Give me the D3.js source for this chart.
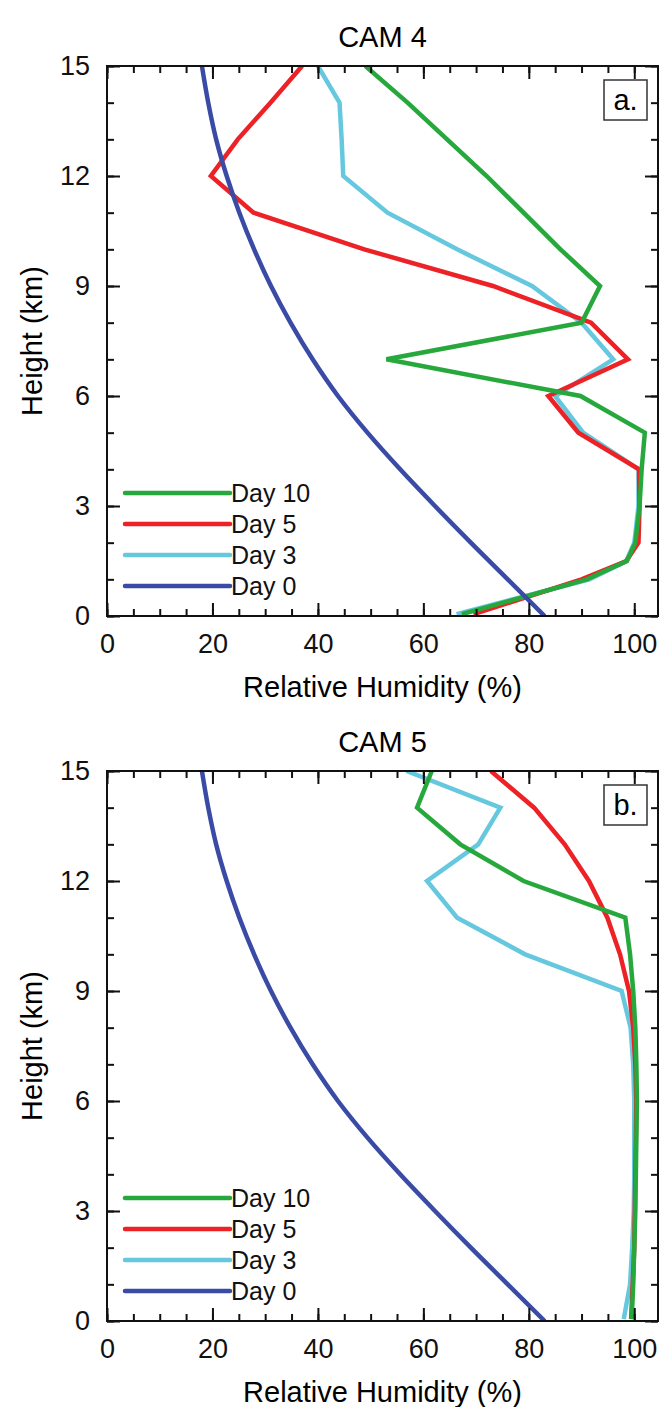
<!DOCTYPE html>
<html>
<head>
<meta charset="utf-8">
<script src="https://cdn.jsdelivr.net/npm/d3@7"></script>
<style>
  html, body { margin: 0; padding: 0; background: #fff; }
  svg { display: block; font-family: "Liberation Sans", Arial, Helvetica, sans-serif; }
</style>
</head>
<body>
<div id="chart"></div>
<script>
// Relative humidity profiles (%) against height (km)

// Initial profile, shared by both models
const day0Heights = [0, 1, 2, 3, 4, 5, 6, 7, 8, 9, 10, 11, 12, 13, 14, 15];
const day0RH      = [83, 76, 69, 62.2, 55.6, 49.4, 43.8, 39, 34.8, 31.1, 27.9, 25.1, 22.7, 20.7, 19.2, 18];

// CAM 4
const cam4Heights = [0.05, 1, 1.5, 2, 3, 4, 5, 6, 7, 8, 9, 10, 11, 12, 13, 14, 15];
const cam4Day3    = [66.3, 91.5, 98.5, 100, 100.8, 100.8, 90.3, 85, 96, 90, 80.6, 66.4, 53.2, 44.8, 44.5, 44.1, 40];
const cam4Day5    = [69.5, 90, 98.5, 100.8, 101, 100.9, 89.4, 83.7, 98.8, 91.8, 73.2, 48.8, 27.8, 19.7, 24.8, 31, 37];
const cam4Day10   = [67.3, 91, 98.6, 100.2, 101, 101.4, 102, 89.8, 53, 90, 93.5, 86, 79, 72, 64.5, 57, 49];

// CAM 5
const cam5Heights = [0.05, 1, 2, 3, 4, 5, 6, 7, 8, 9, 10, 11, 12, 13, 14, 15];
const cam5Day3    = [98, 99.2, 99.6, 99.9, 100, 100, 100, 99.8, 99.3, 97.6, 79.3, 66.4, 60.7, 70.4, 74.6, 56.8];
const cam5Day5    = [99.4, 99.7, 100, 100.1, 100.2, 100.3, 100.4, 100.2, 99.8, 99, 97.3, 94.9, 91.4, 86.8, 81, 72.8];
const cam5Day10   = [99.5, 99.8, 100, 100.2, 100.3, 100.4, 100.5, 100.4, 100.2, 99.8, 99.2, 98.3, 79, 67, 58.8, 61.6];

// Axis ticks
const xMajorTicks = [0, 20, 40, 60, 80, 100];
const xMinorTicks = d3.range(0, 105, 5);
const yMajorTicks = [0, 3, 6, 9, 12, 15];
const yMinorTicks = d3.range(0, 16, 1);

// Legend entries, top to bottom
const legendLabels = ["Day 10", "Day 5", "Day 3", "Day 0"];

const colors = {
  "Day 10": "#27a83c",
  "Day 5":  "#ec2226",
  "Day 3":  "#66c8de",
  "Day 0":  "#3a4ba6"
};

const panels = [
  { title: "CAM 4", tag: "a.", top: 66, heights: cam4Heights,
    series: { "Day 3": cam4Day3, "Day 5": cam4Day5, "Day 10": cam4Day10 } },
  { title: "CAM 5", tag: "b.", top: 771, heights: cam5Heights,
    series: { "Day 3": cam5Day3, "Day 5": cam5Day5, "Day 10": cam5Day10 } }
];

const W = 659, H = 1407;
const left = 107, plotW = 551, plotH = 550;

const svg = d3.select("#chart").append("svg")
  .attr("width", W).attr("height", H);

const x = d3.scaleLinear().domain([0, 104.5]).range([0, plotW]);
const y = d3.scaleLinear().domain([0, 15]).range([plotH, 0]);

panels.forEach((p, i) => {
  const g = svg.append("g").attr("transform", `translate(${left},${p.top})`);

  // clip
  const clipId = "clip" + i;
  g.append("clipPath").attr("id", clipId)
    .append("rect").attr("width", plotW).attr("height", plotH);

  // title
  g.append("text")
    .attr("x", plotW / 2).attr("y", -19)
    .attr("text-anchor", "middle")
    .attr("font-size", 29)
    .text(p.title);

  // axis titles
  g.append("text")
    .attr("x", plotW / 2).attr("y", plotH + 81)
    .attr("text-anchor", "middle")
    .attr("font-size", 29)
    .text("Relative Humidity (%)");

  g.append("text")
    .attr("transform", `translate(${32 - left},${plotH / 2}) rotate(-90)`)
    .attr("text-anchor", "middle")
    .attr("dominant-baseline", "central")
    .attr("font-size", 29)
    .text("Height (km)");

  // profile lines
  const lines = g.append("g").attr("clip-path", `url(#${clipId})`);
  const line = d3.line().x(d => x(d[0])).y(d => y(d[1]));
  const smooth = d3.line().x(d => x(d[0])).y(d => y(d[1])).curve(d3.curveMonotoneY);

  ["Day 3", "Day 5", "Day 10"].forEach(k => {
    const pts = p.series[k].map((v, j) => [v, p.heights[j]]);
    lines.append("path")
      .attr("d", line(pts))
      .attr("fill", "none")
      .attr("stroke", colors[k])
      .attr("stroke-width", 4.5)
      .attr("stroke-linejoin", "miter");
  });
  const d0 = day0RH.map((v, j) => [v, day0Heights[j]]);
  lines.append("path")
    .attr("d", smooth(d0))
    .attr("fill", "none")
    .attr("stroke", colors["Day 0"])
    .attr("stroke-width", 4.5);

  // ticks: inward, on all four sides
  const axStyle = sel => {
    sel.select(".domain").remove();
    sel.selectAll(".tick line").attr("stroke", "#111").attr("stroke-width", 2);
  };
  g.append("g").attr("transform", `translate(0,${plotH})`)
    .call(d3.axisBottom(x).tickValues(xMinorTicks).tickSize(-7).tickFormat(""))
    .call(axStyle);
  g.append("g").attr("transform", `translate(0,${plotH})`)
    .call(d3.axisBottom(x).tickValues(xMajorTicks).tickSize(-13).tickPadding(18))
    .call(axStyle)
    .selectAll("text").attr("font-size", 27).attr("fill", "#111")
    .attr("font-family", "Liberation Sans, Arial, sans-serif");
  g.append("g")
    .call(d3.axisTop(x).tickValues(xMinorTicks).tickSize(-7).tickFormat(""))
    .call(axStyle);
  g.append("g")
    .call(d3.axisTop(x).tickValues(xMajorTicks).tickSize(-13).tickFormat(""))
    .call(axStyle);

  g.append("g")
    .call(d3.axisLeft(y).tickValues(yMinorTicks).tickSize(-7).tickFormat(""))
    .call(axStyle);
  g.append("g")
    .call(d3.axisLeft(y).tickValues(yMajorTicks).tickSize(-13).tickPadding(17))
    .call(axStyle)
    .selectAll("text").attr("font-size", 27).attr("fill", "#111")
    .attr("font-family", "Liberation Sans, Arial, sans-serif");
  g.append("g").attr("transform", `translate(${plotW},0)`)
    .call(d3.axisRight(y).tickValues(yMinorTicks).tickSize(-7).tickFormat(""))
    .call(axStyle);
  g.append("g").attr("transform", `translate(${plotW},0)`)
    .call(d3.axisRight(y).tickValues(yMajorTicks).tickSize(-13).tickFormat(""))
    .call(axStyle);

  // frame
  g.append("rect")
    .attr("width", plotW).attr("height", plotH)
    .attr("fill", "none").attr("stroke", "#111").attr("stroke-width", 2);

  // panel tag
  const tg = g.append("g").attr("transform", `translate(${plotW - 54},14)`);
  tg.append("rect").attr("width", 43).attr("height", 40)
    .attr("fill", "#fff").attr("stroke", "#333").attr("stroke-width", 1.5);
  tg.append("text").attr("x", 21.5).attr("y", 30)
    .attr("text-anchor", "middle").attr("font-size", 29)
    .text(p.tag);

  // legend
  const lg = g.append("g").attr("transform", `translate(18,${plotH - 123})`);
  legendLabels.forEach((lab, j) => {
    const row = lg.append("g").attr("transform", `translate(0,${j * 31})`);
    row.append("line").attr("x1", 0).attr("x2", 105)
      .attr("stroke", colors[lab]).attr("stroke-width", 4.5)
      .attr("stroke-linecap", "round");
    row.append("text").attr("x", 106).attr("y", 9)
      .attr("font-size", 25).attr("fill", "#111")
      .text(lab);
  });
});
</script>
</body>
</html>
